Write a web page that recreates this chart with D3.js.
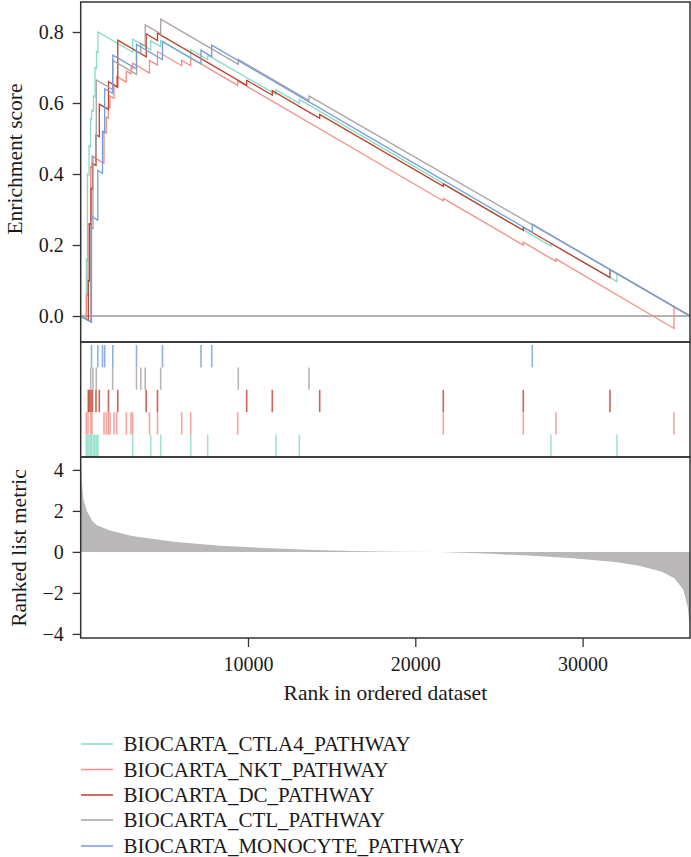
<!DOCTYPE html>
<html>
<head>
<meta charset="utf-8">
<script src="https://cdn.jsdelivr.net/npm/d3@7"></script>
<style>
  html, body { margin: 0; padding: 0; background: #fff; }
  svg { display: block; }
  text { font-family: "Liberation Serif", "Times New Roman", serif; fill: #1a1a1a; }
</style>
</head>
<body>
<svg id="chart" width="691" height="857"></svg>
<script>
// ---------------- DATA ----------------
const totalRanks = 36420;
const pathwayNames = ["BIOCARTA_CTLA4_PATHWAY", "BIOCARTA_NKT_PATHWAY", "BIOCARTA_DC_PATHWAY",
                      "BIOCARTA_CTL_PATHWAY", "BIOCARTA_MONOCYTE_PATHWAY"];
const pathwayColors = ["#86dcc6", "#f28e84", "#bf3f2c", "#aaa0a3", "#729ddb"];

// hit positions (rank) for each gene set
const ctla4Hits = [335, 406, 496, 586, 657, 765, 855, 944, 1034, 3108, 4184, 4782, 6575, 7591, 11673, 13066, 28110, 32055];
const nktHits = [335, 436, 598, 675, 1393, 1530, 1650, 1751, 1990, 2152, 2726, 3006, 3108, 4112, 4590, 6037, 6575, 9384, 21673, 26454, 28409, 35462];
const dcHits = [454, 526, 616, 705, 914, 1112, 1662, 2217, 3915, 4590, 9922, 11452, 14285, 21673, 26454, 31636];
const ctlHits = [598, 735, 932, 1913, 3335, 3592, 3855, 4782, 9420, 13646];
const monocyteHits = [646, 1022, 1303, 1434, 1919, 3335, 4889, 7190, 7830, 26992];

// running enrichment score just before / just after each hit
const ctla4Before = [-0.01, 0.158, 0.397, 0.477, 0.553, 0.577, 0.617, 0.697, 0.742, 0.743, 0.75, 0.759, 0.727, 0.722, 0.624, 0.599, 0.197, 0.097];
const ctla4After  = [0.16, 0.40, 0.48, 0.555, 0.58, 0.62, 0.70, 0.745, 0.80, 0.78, 0.775, 0.776, 0.75, 0.735, 0.637, 0.61, 0.205, 0.12];

const nktBefore = [-0.009, 0.057, 0.256, 0.418, 0.43, 0.516, 0.557, 0.587, 0.613, 0.645, 0.659, 0.682, 0.697, 0.684, 0.707, 0.705, 0.705, 0.65, 0.324, 0.2, 0.154, -0.035];
const nktAfter  = [0.06, 0.26, 0.42, 0.45, 0.52, 0.56, 0.59, 0.62, 0.65, 0.675, 0.69, 0.70, 0.712, 0.72, 0.745, 0.72, 0.727, 0.662, 0.331, 0.208, 0.161, 0.026];

const dcBefore = [-0.012, 0.098, 0.258, 0.358, 0.424, 0.505, 0.582, 0.645, 0.73, 0.776, 0.65, 0.622, 0.557, 0.365, 0.241, 0.108];
const dcAfter  = [0.10, 0.26, 0.36, 0.43, 0.51, 0.597, 0.66, 0.777, 0.795, 0.797, 0.664, 0.635, 0.568, 0.372, 0.25, 0.131];

const ctlBefore = [-0.016, 0.246, 0.445, 0.638, 0.681, 0.738, 0.761, 0.795, 0.709, 0.607];
const ctlAfter  = [0.25, 0.45, 0.665, 0.72, 0.745, 0.768, 0.82, 0.836, 0.723, 0.62];

const monocyteBefore = [-0.018, 0.27, 0.402, 0.516, 0.627, 0.696, 0.722, 0.71, 0.731, 0.236];
const monocyteAfter  = [0.28, 0.41, 0.52, 0.64, 0.735, 0.765, 0.773, 0.749, 0.763, 0.259];

// ranked list metric (rank, value)
const metricRanks  = [0, 30, 60, 150, 365, 705, 970, 1750, 3060, 5700, 8330, 10960, 13600, 16200, 18900, 21500, 24170, 26800, 29440, 32070, 33380, 34700, 35490, 36020, 36280, 36380, 36420];
const metricValues = [4.6, 4.0, 3.5, 2.6, 2.0, 1.5, 1.3, 1.04, 0.78, 0.48, 0.3, 0.19, 0.1, 0.04, 0.01, 0.0, -0.08, -0.18, -0.31, -0.5, -0.67, -0.95, -1.28, -1.85, -2.67, -3.4, -4.0];

const esTicks = [0.0, 0.2, 0.4, 0.6, 0.8];
const metricTicks = [-4, -2, 0, 2, 4];
const rankTicks = [10000, 20000, 30000];

// ---------------- LAYOUT ----------------
const svg = d3.select("#chart");
const left = 80.7, right = 690;
const top1 = 2, bot1 = 342, bot2 = 457, bot3 = 638;

const x = d3.scaleLinear().domain([0, totalRanks]).range([left, right]);
const yES = d3.scaleLinear().domain([-0.0732, 0.8845]).range([bot1, top1]);
const yM = d3.scaleLinear().domain([-4.2, 4.63]).range([bot3, bot2]);

const sets = [
  {hits: ctla4Hits, before: ctla4Before, after: ctla4After},
  {hits: nktHits, before: nktBefore, after: nktAfter},
  {hits: dcHits, before: dcBefore, after: dcAfter},
  {hits: ctlHits, before: ctlBefore, after: ctlAfter},
  {hits: monocyteHits, before: monocyteBefore, after: monocyteAfter}
];

// ---- top panel: enrichment score ----
svg.append("line")
  .attr("x1", left).attr("x2", right)
  .attr("y1", yES(0)).attr("y2", yES(0))
  .attr("stroke", "#9a9a9a").attr("stroke-width", 1.3);

const esLine = d3.line().x(d => x(d[0])).y(d => yES(d[1]));
sets.forEach((s, i) => {
  const pts = [[0, 0]];
  s.hits.forEach((r, j) => { pts.push([r, s.before[j]]); pts.push([r, s.after[j]]); });
  pts.push([totalRanks, 0]);
  svg.append("path").datum(pts)
    .attr("d", esLine)
    .attr("fill", "none")
    .attr("stroke", pathwayColors[i])
    .attr("stroke-width", 1.3)
    .attr("stroke-linejoin", "miter");
});

// ---- middle panel: hits ----
const rowTop = 345, rowH = 22.4;
const rowOrder = [4, 3, 2, 1, 0]; // monocyte at top ... ctla4 at bottom
rowOrder.forEach((si, row) => {
  const y0 = rowTop + row * rowH;
  const y1 = row === 4 ? bot2 : y0 + rowH;
  svg.append("g").selectAll("line")
    .data(sets[si].hits)
    .join("line")
    .attr("x1", d => x(d)).attr("x2", d => x(d))
    .attr("y1", y0).attr("y2", y1)
    .attr("stroke", pathwayColors[si])
    .attr("stroke-width", 1.6)
    .attr("stroke-opacity", 0.8);
});

// ---- bottom panel: ranked metric ----
const metricData = metricRanks.map((r, i) => [r, metricValues[i]]);
svg.append("path").datum(metricData)
  .attr("d", d3.area().x(d => x(d[0])).y0(yM(0)).y1(d => yM(d[1])))
  .attr("fill", "#bab7b9");

// ---- frames ----
[[top1, bot1], [bot1, bot2], [bot2, bot3]].forEach(([a, b]) => {
  svg.append("rect")
    .attr("x", left).attr("y", a)
    .attr("width", right - left).attr("height", b - a)
    .attr("fill", "none").attr("stroke", "#333").attr("stroke-width", 1.5);
});

// ---- axes ----
function styleAxis(g) {
  g.select(".domain").remove();
  g.selectAll(".tick line").attr("stroke", "#333").attr("stroke-width", 1.3);
  g.selectAll(".tick text").style("font-family", '"Liberation Serif", serif')
    .style("font-size", "20px").attr("fill", "#1a1a1a");
}
svg.append("g").attr("transform", `translate(${left},0)`)
  .call(d3.axisLeft(yES).tickValues(esTicks).tickFormat(d3.format(".1f")).tickSize(8).tickPadding(9))
  .call(styleAxis);
svg.append("g").attr("transform", `translate(${left},0)`)
  .call(d3.axisLeft(yM).tickValues(metricTicks).tickFormat(d => d < 0 ? "\u2212" + Math.abs(d) : String(d)).tickSize(8).tickPadding(9))
  .call(styleAxis);
svg.append("g").attr("transform", `translate(0,${bot3})`)
  .call(d3.axisBottom(x).tickValues(rankTicks).tickFormat(d3.format("d")).tickSize(9).tickPadding(10))
  .call(styleAxis);

// ---- axis titles ----
svg.append("text").attr("transform", "translate(14,159) rotate(-90)")
  .attr("text-anchor", "middle").attr("dy", "0.35em")
  .style("font-size", "21.5px").text("Enrichment score");
svg.append("text").attr("transform", "translate(18,548) rotate(-90)")
  .attr("text-anchor", "middle").attr("dy", "0.35em")
  .style("font-size", "21.5px").text("Ranked list metric");
svg.append("text").attr("x", (left + right) / 2).attr("y", 700)
  .attr("text-anchor", "middle")
  .style("font-size", "21.5px").text("Rank in ordered dataset");

// ---- legend ----
const legendY = [744, 769.5, 795, 820, 846];
pathwayNames.forEach((name, i) => {
  svg.append("line")
    .attr("x1", 81).attr("x2", 113)
    .attr("y1", legendY[i]).attr("y2", legendY[i])
    .attr("stroke", pathwayColors[i]).attr("stroke-width", 1.5);
  svg.append("text")
    .attr("x", 123.5).attr("y", legendY[i]).attr("dy", "0.35em")
    .style("font-size", "21px").text(name);
});
</script>
</body>
</html>
